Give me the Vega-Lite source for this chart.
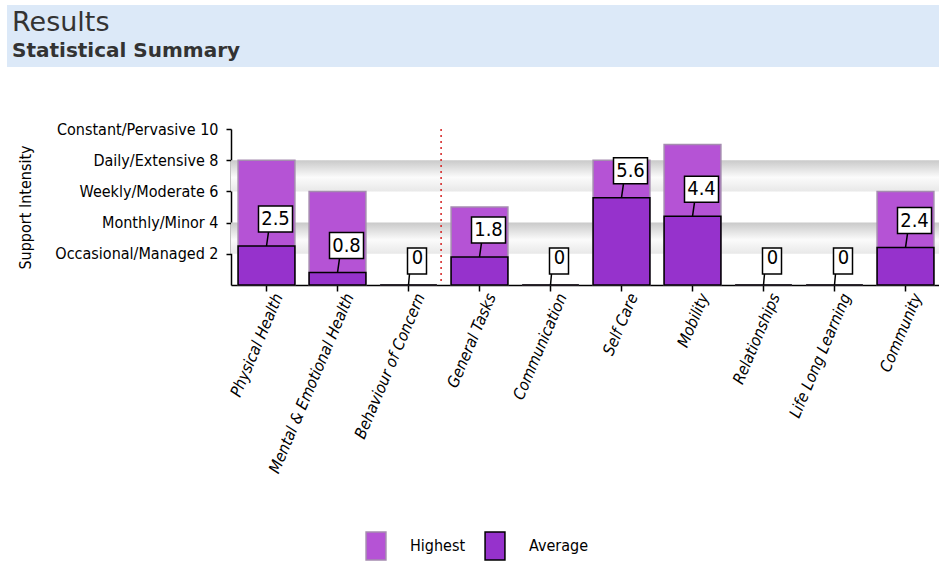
{
  "$schema": "https://vega.github.io/schema/vega-lite/v6.json",
  "padding": {"left": 7, "top": 5, "right": 0, "bottom": 0},
  "background": "white",
  "config": {
    "view": {"stroke": null},
    "font": "DejaVu Sans Condensed"
  },
  "spacing": 54,
  "vconcat": [
    {
      "width": 932,
      "height": 62,
      "view": {"fill": "#dce9f8", "stroke": null},
      "title": {
        "text": "Results",
        "subtitle": "Statistical Summary",
        "anchor": "start",
        "offset": -57,
        "dx": 5,
        "font": "DejaVu Sans",
        "fontSize": 27,
        "fontWeight": "normal",
        "color": "#333333",
        "subtitleFont": "DejaVu Sans",
        "subtitleFontSize": 20,
        "subtitleFontWeight": "bold",
        "subtitleColor": "#333333",
        "subtitlePadding": 4
      },
      "data": {"values": []},
      "mark": "point"
    },
    {
      "spacing": 9,
      "hconcat": [
        {
          "width": 1,
          "height": 1,
          "data": {"values": []},
          "mark": "point"
        },
        {
          "width": 710,
          "height": 156,
          "layer": [
            {
              "data": {"values": [{}]},
              "mark": {
                "type": "rect",
                "color": {
                  "gradient": "linear", "x1": 0, "y1": 0, "x2": 0, "y2": 1,
                  "stops": [
                    {"offset": 0, "color": "#c9c9c9"},
                    {"offset": 0.55, "color": "#fbfbfb"},
                    {"offset": 1, "color": "#e8e8e8"}
                  ]
                }
              },
              "encoding": {
                "y": {"datum": 8, "type": "quantitative"},
                "y2": {"datum": 6}
              }
            },
            {
              "data": {"values": [{}]},
              "mark": {
                "type": "rect",
                "color": {
                  "gradient": "linear", "x1": 0, "y1": 0, "x2": 0, "y2": 1,
                  "stops": [
                    {"offset": 0, "color": "#c9c9c9"},
                    {"offset": 0.55, "color": "#fbfbfb"},
                    {"offset": 1, "color": "#e8e8e8"}
                  ]
                }
              },
              "encoding": {
                "y": {"datum": 4, "type": "quantitative"},
                "y2": {"datum": 2}
              }
            },
            {
              "data": {"values": [{}]},
              "mark": {"type": "rule", "color": "#d42020", "strokeWidth": 1.5, "strokeDash": [2, 4]},
              "encoding": {
                "x": {"datum": "General Tasks", "type": "nominal", "bandPosition": 0},
                "xOffset": {"value": -10}
              }
            },
            {
              "data": {
                "values": [
                  {"area": "Physical Health", "series": "Highest", "value": 8},
                  {"area": "Mental & Emotional Health", "series": "Highest", "value": 6},
                  {"area": "Behaviour of Concern", "series": "Highest", "value": 0},
                  {"area": "General Tasks", "series": "Highest", "value": 5},
                  {"area": "Communication", "series": "Highest", "value": 0},
                  {"area": "Self Care", "series": "Highest", "value": 8},
                  {"area": "Mobility", "series": "Highest", "value": 9},
                  {"area": "Relationships", "series": "Highest", "value": 0},
                  {"area": "Life Long Learning", "series": "Highest", "value": 0},
                  {"area": "Community", "series": "Highest", "value": 6},
                  {"area": "Physical Health", "series": "Average", "value": 2.5},
                  {"area": "Mental & Emotional Health", "series": "Average", "value": 0.8},
                  {"area": "Behaviour of Concern", "series": "Average", "value": 0},
                  {"area": "General Tasks", "series": "Average", "value": 1.8},
                  {"area": "Communication", "series": "Average", "value": 0},
                  {"area": "Self Care", "series": "Average", "value": 5.6},
                  {"area": "Mobility", "series": "Average", "value": 4.4},
                  {"area": "Relationships", "series": "Average", "value": 0},
                  {"area": "Life Long Learning", "series": "Average", "value": 0},
                  {"area": "Community", "series": "Average", "value": 2.4}
                ]
              },
              "encoding": {
                "x": {
                  "field": "area",
                  "type": "nominal",
                  "sort": null,
                  "scale": {
                    "domain": ["Physical Health", "Mental & Emotional Health", "Behaviour of Concern", "General Tasks", "Communication", "Self Care", "Mobility", "Relationships", "Life Long Learning", "Community"],
                    "paddingInner": 0.2,
                    "paddingOuter": 0.1
                  },
                  "axis": {
                    "title": null,
                    "domainColor": "black",
                    "domainWidth": 1.5,
                    "tickColor": "black",
                    "tickWidth": 1.5,
                    "tickSize": 6,
                    "labelAngle": -67,
                    "labelAlign": "right",
                    "labelBaseline": "middle",
                    "labelOffset": 12,
                    "labelPadding": 3,
                    "labelLimit": 400,
                    "labelFont": "DejaVu Sans Condensed",
                    "labelFontStyle": "italic",
                    "labelFontSize": 16,
                    "labelColor": "black"
                  }
                },
                "y": {
                  "field": "value",
                  "type": "quantitative",
                  "scale": {"domain": [0, 10]},
                  "axis": {
                    "values": [2, 4, 6, 8, 10],
                    "tickCount": 10,
                    "labelExpr": "datum.value == 2 ? 'Occasional/Managed 2' : datum.value == 4 ? 'Monthly/Minor 4' : datum.value == 6 ? 'Weekly/Moderate 6' : datum.value == 8 ? 'Daily/Extensive 8' : 'Constant/Pervasive 10'",
                    "labelOverlap": false,
                    "grid": false,
                    "domainColor": "black",
                    "domainWidth": 1.5,
                    "tickColor": "black",
                    "tickWidth": 1.5,
                    "tickSize": 5,
                    "labelPadding": 8,
                    "labelFont": "DejaVu Sans Condensed",
                    "labelFontSize": 16,
                    "labelColor": "black",
                    "title": "Support Intensity",
                    "titleFont": "DejaVu Sans Condensed",
                    "titleFontSize": 16,
                    "titleFontWeight": "normal",
                    "titleColor": "black",
                    "titlePadding": 21
                  }
                }
              },
              "layer": [
                {
                  "mark": {"type": "bar", "strokeWidth": 1.5},
                  "encoding": {
                    "y": {"field": "value", "type": "quantitative", "stack": null},
                    "color": {
                      "field": "series",
                      "type": "nominal",
                      "scale": {"domain": ["Highest", "Average"], "range": ["#b553d5", "#9632cc"]},
                      "legend": {
                        "orient": "none",
                        "legendX": 354,
                        "legendY": 526,
                        "direction": "horizontal",
                        "title": null,
                        "padding": 0,
                        "symbolType": "M-0.71,-1H0.71V1H-0.71Z",
                        "symbolSize": 784,
                        "symbolStrokeWidth": 1.5,
                        "labelFont": "DejaVu Sans Condensed",
                        "labelFontSize": 16,
                        "labelColor": "black",
                        "labelOffset": 19,
                        "columnPadding": 14
                      }
                    },
                    "stroke": {
                      "field": "series",
                      "type": "nominal",
                      "scale": {"domain": ["Highest", "Average"], "range": ["#a58cb0", "#000000"]},
                      "legend": null
                    }
                  }
                },
                {
                  "transform": [{"filter": "datum.series == 'Average'"}],
                  "mark": {"type": "point", "filled": true, "fill": "white", "stroke": "black", "strokeWidth": 1.5, "opacity": 1, "size": 6400},
                  "encoding": {
                    "shape": {
                      "condition": {"test": "datum.value == 0", "value": "M-0.025,-0.925H0.45V-0.275H-0.025ZM0,0L0.025,-0.275"},
                      "value": "M-0.2,-1H0.65V-0.35H-0.2ZM0,0L0.05,-0.35"
                    }
                  }
                },
                {
                  "transform": [{"filter": "datum.series == 'Average'"}],
                  "mark": {"type": "text", "align": "center", "baseline": "middle", "dx": 9, "font": "DejaVu Sans Condensed", "fontSize": 20, "color": "black"},
                  "encoding": {
                    "text": {"field": "value", "type": "quantitative"},
                    "yOffset": {"condition": {"test": "datum.value == 0", "value": -24}, "value": -27}
                  }
                }
              ]
            }
          ]
        }
      ]
    }
  ]
}
